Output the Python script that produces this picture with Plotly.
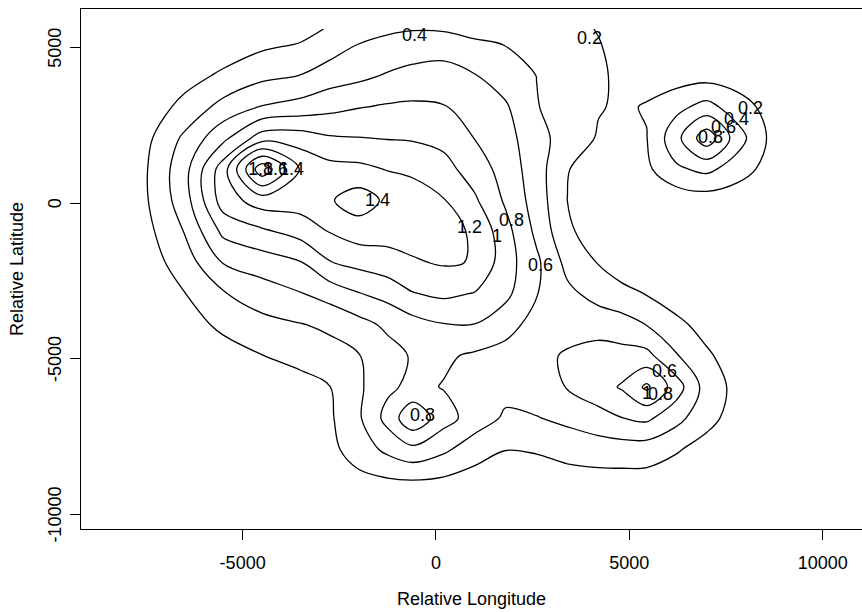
import plotly.graph_objects as go

# Grid nodes (relative longitude / latitude, metres)
lon = [-8500, -7500, -6500, -5500, -4500, -3500, -2750, -2000, -1250, -600, 200,
       1000, 1800, 2600, 3400, 4200, 4800, 5450, 6200, 7000, 7800, 8600, 9400]
lat = [5600, 5100, 4100, 3100, 2100, 1100, 100, -900, -1900, -2900, -3900,
       -4900, -5900, -6900, -7900, -8900, -9900]

# Density surface, one row per latitude (north to south)
density = [
    [0, 0, 0.01, 0.03, 0.05, 0.143, 0.215, 0.286, 0.37, 0.39, 0.38, 0.33, 0.29, 0.26, 0.23, 0.195, 0.15, 0.12, 0.07, 0.06, 0.05, 0.03, 0.01],
    [0, 0, 0.03, 0.10, 0.16, 0.21, 0.30, 0.405, 0.45, 0.48, 0.50, 0.44, 0.395, 0.335, 0.27, 0.205, 0.17, 0.14, 0.08, 0.07, 0.06, 0.04, 0.02],
    [0, 0.01, 0.135, 0.23, 0.35, 0.405, 0.50, 0.55, 0.62, 0.67, 0.69, 0.61, 0.505, 0.398, 0.31, 0.215, 0.18, 0.15, 0.10, 0.12, 0.10, 0.06, 0.03],
    [0, 0.10, 0.25, 0.47, 0.61, 0.675, 0.74, 0.79, 0.82, 0.83, 0.81, 0.725, 0.624, 0.41, 0.31, 0.21, 0.18, 0.21, 0.34, 0.47, 0.29, 0.14, 0.06],
    [0, 0.15, 0.44, 0.745, 1.1, 1.1, 1.02, 1.005, 0.99, 0.98, 0.94, 0.795, 0.67, 0.48, 0.30, 0.185, 0.17, 0.195, 0.53, 0.93, 0.49, 0.18, 0.05],
    [0.03, 0.185, 0.53, 1.11, 1.95, 1.38, 1.27, 1.25, 1.19, 1.16, 1.07, 0.905, 0.72, 0.49, 0.21, 0.09, 0.07, 0.16, 0.365, 0.45, 0.30, 0.13, 0.03],
    [0.03, 0.18, 0.51, 1.1, 1.3, 1.3, 1.38, 1.5, 1.36, 1.3, 1.21, 1.03, 0.77, 0.51, 0.198, 0.08, 0.05, 0.05, 0.07, 0.1, 0.07, 0.04, 0.02],
    [0.02, 0.14, 0.41, 0.85, 0.965, 1.08, 1.21, 1.3, 1.28, 1.28, 1.25, 1.18, 0.87, 0.555, 0.236, 0.09, 0.05, 0.04, 0.04, 0.04, 0.03, 0.02, 0.01],
    [0.01, 0.1, 0.3, 0.61, 0.70, 0.79, 0.99, 1.06, 1.12, 1.18, 1.22, 1.19, 0.89, 0.64, 0.34, 0.19, 0.09, 0.05, 0.03, 0.02, 0.01, 0.01, 0],
    [0, 0.04, 0.195, 0.385, 0.5, 0.59, 0.68, 0.79, 0.87, 0.99, 1.04, 0.99, 0.85, 0.61, 0.445, 0.33, 0.26, 0.19, 0.1, 0.05, 0.02, 0.01, 0],
    [0, 0.02, 0.12, 0.24, 0.34, 0.39, 0.44, 0.53, 0.64, 0.72, 0.79, 0.795, 0.68, 0.52, 0.5, 0.51, 0.485, 0.395, 0.25, 0.13, 0.05, 0.02, 0],
    [0, 0, 0.03, 0.12, 0.195, 0.26, 0.32, 0.39, 0.52, 0.62, 0.63, 0.57, 0.52, 0.53, 0.63, 0.69, 0.67, 0.66, 0.42, 0.23, 0.1, 0.03, 0],
    [0, 0, 0, 0.02, 0.08, 0.13, 0.195, 0.365, 0.56, 0.65, 0.59, 0.5, 0.46, 0.52, 0.61, 0.715, 0.82, 1.04, 0.705, 0.31, 0.14, 0.05, 0.01],
    [0, 0, 0, 0, 0.01, 0.05, 0.17, 0.37, 0.67, 0.96, 0.68, 0.51, 0.37, 0.39, 0.45, 0.53, 0.595, 0.64, 0.47, 0.26, 0.12, 0.04, 0],
    [0, 0, 0, 0, 0, 0.04, 0.15, 0.29, 0.45, 0.55, 0.44, 0.29, 0.205, 0.22, 0.27, 0.3, 0.31, 0.3, 0.22, 0.13, 0.05, 0.01, 0],
    [0, 0, 0, 0, 0, 0.02, 0.08, 0.15, 0.18, 0.198, 0.17, 0.12, 0.08, 0.09, 0.12, 0.13, 0.13, 0.13, 0.1, 0.06, 0.02, 0, 0],
    [0, 0, 0, 0, 0, 0, 0.02, 0.06, 0.1, 0.12, 0.1, 0.07, 0.05, 0.05, 0.06, 0.06, 0.06, 0.06, 0.05, 0.03, 0.01, 0, 0],
]

# Contour levels
level_start, level_end, level_step = 0.2, 1.8, 0.2

# Level labels written onto the lines
label_text = ["0.4", "0.2", "0.2", "0.4", "0.6", "0.8", "1.8", "1.6", "1.4",
              "1.4", "1.2", "1", "0.8", "0.6", "0.6", "1", "0.8", "0.8"]
label_lon = [-543, 3982, 8146, 7784, 7448, 7111, -4526, -4163, -3724,
             -1500, 879, 1577, 1965, 2715, 5922, 5456, 5818, -336]
label_lat = [5410, 5314, 3074, 2721, 2464, 2143, 1105, 1105, 1105,
             106, -767, -1056, -542, -1988, -5393, -6100, -6132, -6807]

# Axis ticks
x_ticks = [-5000, 0, 5000, 10000]
x_tick_text = ["-5000", "0", "5000", "10000"]
y_ticks = [-10000, -5000, 0, 5000]
y_tick_text = ["-10000", "-5000", "0", "5000"]

FONT = "Liberation Sans, Arial, Helvetica, sans-serif"
PLOT_LEFT, PLOT_WIDTH = 81, 781  # pixel geometry of the plotting region

fig = go.Figure(
    go.Contour(
        x=lon,
        y=lat[::-1],
        z=density[::-1],
        autocontour=False,
        contours=dict(start=level_start, end=level_end + 0.01, size=level_step,
                      coloring="lines", showlabels=False),
        colorscale=[[0, "black"], [1, "black"]],
        line=dict(width=1.3, smoothing=1.0),
        showscale=False,
        hoverinfo="skip",
    )
)

for txt, lx, ly in zip(label_text, label_lon, label_lat):
    fig.add_annotation(x=lx, y=ly, text=txt, showarrow=False,
                       font=dict(family=FONT, size=18, color="black"),
                       xanchor="center", yanchor="middle")

# Vertical latitude tick labels, placed just left of the tick marks
for val, txt in zip(y_ticks, y_tick_text):
    fig.add_annotation(xref="paper", yref="y", x=(55 - PLOT_LEFT) / PLOT_WIDTH,
                       y=val, text=txt, showarrow=False, textangle=-90,
                       font=dict(family=FONT, size=18, color="black"),
                       xanchor="center", yanchor="middle")

fig.add_annotation(xref="paper", yref="paper", x=0.5, y=-0.1346,
                   text="Relative Longitude", showarrow=False,
                   font=dict(family=FONT, size=18, color="black"),
                   xanchor="center", yanchor="middle")
fig.add_annotation(xref="paper", yref="paper", x=(17 - PLOT_LEFT) / PLOT_WIDTH,
                   y=0.5, text="Relative Latitude", showarrow=False, textangle=-90,
                   font=dict(family=FONT, size=18, color="black"),
                   xanchor="center", yanchor="middle")

fig.update_layout(
    width=862, height=612,
    margin=dict(l=PLOT_LEFT, r=0, t=9, b=83),
    paper_bgcolor="white", plot_bgcolor="white",
    showlegend=False,
    font=dict(family=FONT, size=18, color="black"),
)
fig.update_xaxes(
    range=[-9180, 11017], tickvals=x_ticks, ticktext=x_tick_text,
    ticks="outside", ticklen=10, tickwidth=1.3, tickcolor="black",
    showline=True, linecolor="black", linewidth=1.3, mirror=True,
    showgrid=False, zeroline=False, ticklabelstandoff=7,
    tickfont=dict(family=FONT, size=18, color="black"),
)
fig.update_yaxes(
    range=[-10462, 6242], tickvals=y_ticks, showticklabels=False,
    ticks="outside", ticklen=10, tickwidth=1.3, tickcolor="black",
    showline=True, linecolor="black", linewidth=1.3, mirror=False,
    showgrid=False, zeroline=False,
)

fig.write_html("out.html")
